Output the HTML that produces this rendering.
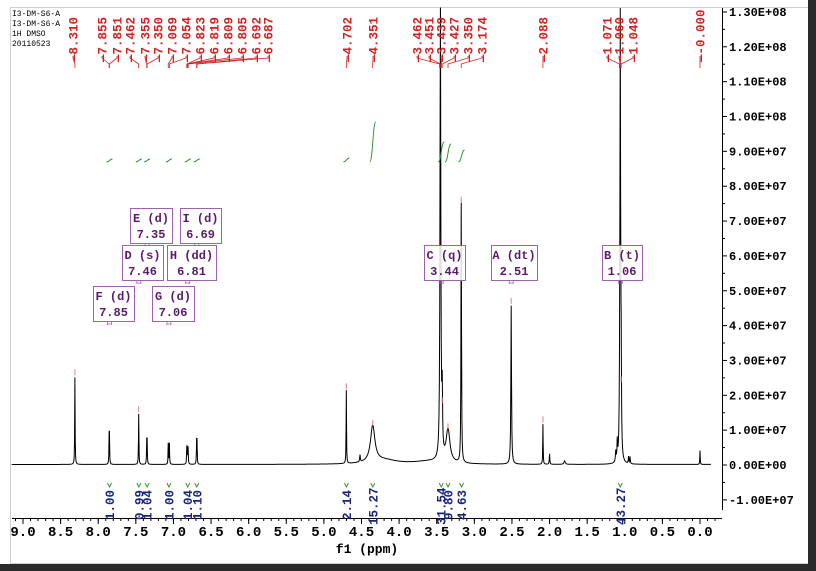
<!DOCTYPE html>
<html><head><meta charset="utf-8">
<style>
html,body{margin:0;padding:0;background:#fff;}
body{width:816px;height:571px;overflow:hidden;position:relative;font-family:"Liberation Serif","Noto Serif CJK SC",serif;}
svg{position:absolute;left:0;top:0;}
</style></head>
<body>
<svg id="chart" width="816" height="571" viewBox="0 0 816 571" xmlns="http://www.w3.org/2000/svg">
  <rect x="10.5" y="7.5" width="798" height="556" fill="#fff" stroke="#cfcfcf"/>
  <rect x="808" y="0" width="8" height="571" fill="#2a2a2a"/>
  <rect x="0" y="564" width="816" height="7" fill="#2a2a2a"/>
  <g font-family="Liberation Mono, monospace" font-size="8" fill="#000">
    <text x="12" y="16">I3-DM-S6-A</text>
    <text x="12" y="26">I3-DM-S6-A</text>
    <text x="12" y="36">1H DMSO</text>
    <text x="12" y="46">20110523</text>
  </g>
  <g id="axes"></g>
  <g id="spectrum"></g>
  <g id="labels"></g>
</svg>
<script>
// ---- data ----
const peakPpm = [8.310,7.855,7.851,7.462,7.355,7.350,7.069,7.054,6.823,6.819,6.809,6.805,6.692,6.687,4.702,4.351,4.52,3.451,3.427,3.350,3.174,2.510,2.088,2.000,1.80,1.12,1.10,1.071,1.060,1.048,0.95,0.93,0.000,3.60,4.20];
const peakHeight = [2.5,0.7,0.7,1.45,0.6,0.6,0.6,0.6,0.35,0.35,0.35,0.35,0.6,0.6,2.1,1.05,0.2,14,1.7,0.95,7.45,4.55,1.15,0.3,0.1,0.3,0.55,0.6,14,2.3,0.2,0.2,0.4,0.08,0.12];
const peakWidth = [0.003,0.003,0.003,0.003,0.003,0.003,0.003,0.003,0.003,0.003,0.003,0.003,0.003,0.003,0.003,0.035,0.005,0.006,0.005,0.03,0.004,0.005,0.003,0.004,0.01,0.005,0.004,0.004,0.005,0.004,0.004,0.004,0.003,0.25,0.2];
const xTicks = [9.0,8.5,8.0,7.5,7.0,6.5,6.0,5.5,5.0,4.5,4.0,3.5,3.0,2.5,2.0,1.5,1.0,0.5,0.0];
const yTicks = [13,12,11,10,9,8,7,6,5,4,3,2,1,0,-1];
const yTickLabels = ["1.30E+08","1.20E+08","1.10E+08","1.00E+08","9.00E+07","8.00E+07","7.00E+07","6.00E+07","5.00E+07","4.00E+07","3.00E+07","2.00E+07","1.00E+07","0.00E+00","-1.00E+07"];
const shiftLabels = ["8.310","7.855","7.851","7.462","7.355","7.350","7.069","7.054","6.823","6.819","6.809","6.805","6.692","6.687","4.702","4.351","3.462","3.451","3.439","3.427","3.350","3.174","2.088","1.071","1.060","1.048","-0.000"];
const shiftLabelPpm = [8.310,7.855,7.851,7.462,7.355,7.350,7.069,7.054,6.823,6.819,6.809,6.805,6.692,6.687,4.702,4.351,3.462,3.451,3.439,3.427,3.350,3.174,2.088,1.071,1.060,1.048,0.000];
const integralValues = ["1.00","0.99","1.04","1.00","1.04","1.10","2.14","15.27","31.54","9.80","4.63","43.27"];
const integralPpm = [7.85,7.46,7.35,7.06,6.81,6.69,4.70,4.35,3.44,3.35,3.17,1.06];
const multName = ["E (d)","I (d)","D (s)","H (dd)","F (d)","G (d)","C (q)","A (dt)","B (t)"];
const multShift = ["7.35","6.69","7.46","6.81","7.85","7.06","3.44","2.51","1.06"];

// ---- scales ----
const X0=23, X9=700;
function xs(p){return 700-(p/9)*(X9-X0);}
const YZ=465, PER=34.85;
function ys(v){return YZ-v*PER;}
const NS="http://www.w3.org/2000/svg";
function mk(tag,attrs,parent){const e=document.createElementNS(NS,tag);for(const k in attrs)e.setAttribute(k,attrs[k]);parent.appendChild(e);return e;}
const axes=document.getElementById('axes'), spec=document.getElementById('spectrum'), lab=document.getElementById('labels');

// x axis
const xl=mk('line',{x1:12,y1:518.5,x2:722,y2:518.5,stroke:'#000'},axes);


for(let p=9.1;p>=-0.2;p-=0.1){const x=xs(p);mk('line',{x1:x,y1:518,x2:x,y2:521,stroke:'#000'},axes);}
xTicks.forEach(p=>{const x=xs(p);mk('line',{x1:x,y1:518,x2:x,y2:524,stroke:'#000'},axes);
  const t=mk('text',{x:x,y:536,'text-anchor':'middle','font-size':'14','font-weight':'bold',fill:'#000','font-family':'Liberation Mono, monospace'},axes);t.textContent=p.toFixed(1);
  
  });
const xt=mk('text',{x:367,y:553,'text-anchor':'middle','font-size':'13','font-weight':'bold',fill:'#000','font-family':'Liberation Mono, monospace'},axes);
xt.textContent='f1 (ppm)';


// y axis
const yl=mk('line',{x1:722.5,y1:8,x2:722.5,y2:510,stroke:'#000'},axes);


yTicks.forEach((v,i)=>{const y=ys(v);mk('line',{x1:722,y1:y,x2:727,y2:y,stroke:'#000'},axes);
  if(v>-1) mk('line',{x1:722,y1:ys(v-0.5),x2:725,y2:ys(v-0.5),stroke:'#000'},axes);
  const t=mk('text',{x:729,y:y+4,'font-size':'12','font-weight':'bold',fill:'#000','font-family':'Liberation Mono, monospace'},axes);t.textContent=yTickLabels[i];
  
  });

// spectrum
let xsamp=[];for(let p=9.15;p>=-0.15;p-=0.005)xsamp.push(p);
peakPpm.forEach(p=>xsamp.push(p));xsamp.sort((a,b)=>b-a);
let pts=xsamp.map(p=>{let s=0.015;for(let i=0;i<peakPpm.length;i++){const d=(p-peakPpm[i])/peakWidth[i];s+=peakHeight[i]/(1+d*d);}
  let y=ys(s);if(y<8)y=8;return xs(p).toFixed(2)+','+y.toFixed(2);});
const pl=mk('polyline',{points:pts.join(' '),fill:'none',stroke:'#000','stroke-width':'1'},spec);


peakPpm.forEach((p,i)=>{if(peakHeight[i]<0.9||peakHeight[i]>10)return;const y=ys(peakHeight[i]+0.015);
  mk('line',{x1:xs(p),y1:y-8,x2:xs(p),y2:y-2,stroke:'#e08080'},spec);});

// shift labels (top)
const labelX=[73,102,117,130,145,158,172,186,200,214,228,242,256,268,347,373,417,429,441,454,468,482,543,607,619,633,700];
shiftLabels.forEach((s,i)=>{const x=labelX[i];
  const t=mk('text',{transform:`translate(${x+4.5},62) rotate(-90)`,'font-size':'12.5','font-weight':'bold',fill:'#d42020','font-family':'Liberation Mono, monospace'},lab);
  t.textContent='\u2014'+s;
  
  
  const px=xs(shiftLabelPpm[i]);
  mk('path',{d:`M${x} 56 L${x} 58 L${px} 64 L${px} 68`,fill:'none',stroke:'#d42020','stroke-width':'0.8'},lab);});

// integral curves
const intCurve=[[7.85,3],[7.46,3],[7.35,3],[7.06,3],[6.81,3],[6.69,3],[4.70,4],[4.35,40],[3.44,20],[3.35,18],[3.17,12]];
intCurve.forEach(([p,h])=>{const x=xs(p);mk('path',{d:`M${x-3} 162 C${x} 162 ${x} ${162-h} ${x+3} ${162-h}`,fill:'none',stroke:'#2a8a2a','stroke-width':'0.9'},spec);});

// integral labels (bottom)
integralPpm.forEach((p,i)=>{const x=xs(p);
  mk('path',{d:`M${x-2} 483 L${x} 487 L${x+2} 483`,fill:'none',stroke:'#2a8a2a','stroke-width':'0.9'},lab);
  const t=mk('text',{transform:`translate(${x+4.5},${integralValues[i].length>4?525:520}) rotate(-90)`,'font-size':'12.5','font-weight':'bold',fill:'#1a237e','font-family':'Liberation Mono, monospace'},lab);
  t.textContent=integralValues[i];
  
  });

// multiplet boxes
const boxes=[[130,208,42],[180,208,41],[122,245,41],[167,245,49],[93,286,41],[152,286,42],[424,245,41],[491,245,46],[602,245,40]];
multName.forEach((n,i)=>{const [bx,by,bw]=boxes[i];
  const g=mk('g',{},lab);
  
  
  mk('rect',{x:bx+0.5,y:by+0.5,width:bw,height:35,fill:'#fff','fill-opacity':'0.85',stroke:'#a060b0'},g);
  const t1=mk('text',{x:bx+bw/2,y:by+14,'text-anchor':'middle','font-size':'12','font-weight':'bold',fill:'#5a1a6a','font-family':'Liberation Mono, monospace'},g);t1.textContent=n;
  const t2=mk('text',{x:bx+bw/2,y:by+30,'text-anchor':'middle','font-size':'12','font-weight':'bold',fill:'#5a1a6a','font-family':'Liberation Mono, monospace'},g);t2.textContent=multShift[i];
  const mx=xs(parseFloat(multShift[i]));
  mk('path',{d:`M${mx-2} ${by+36} v3 M${mx+2} ${by+36} v3 M${mx-2} ${by+38} h4`,stroke:'#a060b0',fill:'none','stroke-width':'0.8'},g);
});
</script>
</body></html>
